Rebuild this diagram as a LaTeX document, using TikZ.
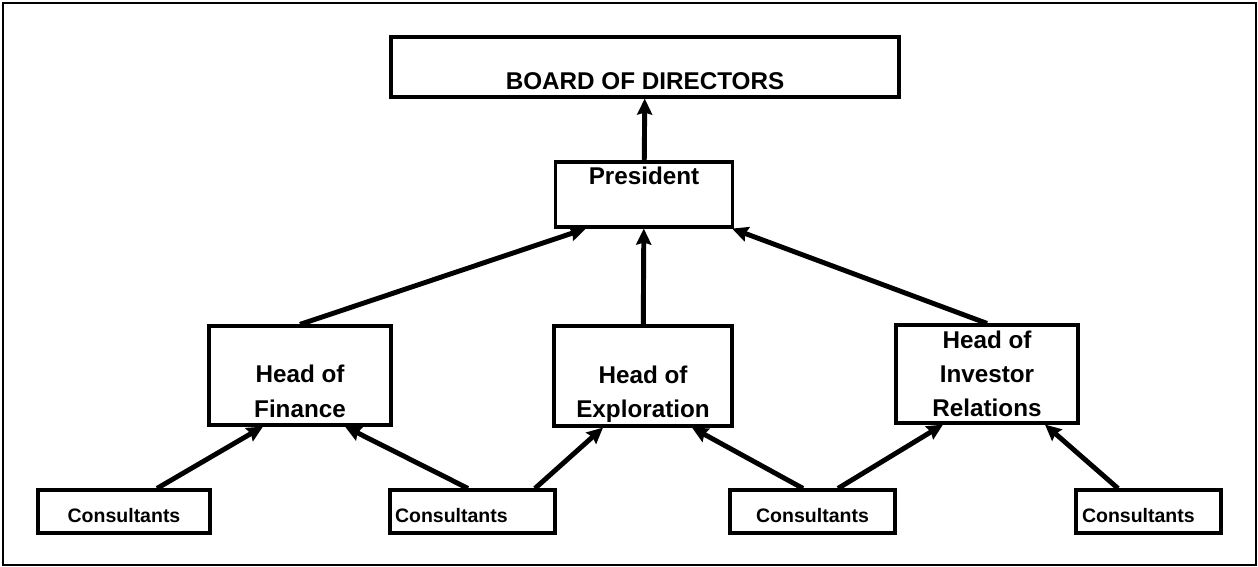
\documentclass[tikz,border=0pt]{standalone}
\usepackage{fontspec}
\setmainfont{Liberation Sans}
\usetikzlibrary{arrows.meta}

\tikzset{
  orgbox/.style={draw, line width=1.8pt, inner sep=0pt, font=\bfseries\fontsize{13.8pt}{19.4pt}\selectfont},
  consult/.style={draw, line width=1.8pt, inner ysep=0pt, minimum height=0.86cm, text height=0.6cm, text depth=0.14cm, font=\bfseries\fontsize{11.1pt}{13pt}\selectfont},
  link/.style={line width=2.8pt, -{Stealth[length=0.32cm, width=0.3cm, inset=0.04cm]}},
}

\begin{document}
\begin{tikzpicture}[x=0.02cm, y=-0.02cm]
\useasboundingbox (0,0) rectangle (1258,567);
\draw[line width=1.5pt] (3,3) rectangle (1256,565);

 \node[orgbox, minimum width=10.16cm, minimum height=1.2cm, text height=0.95cm, text depth=0.03cm] (board) at (645,67) {BOARD OF DIRECTORS};
 \node[orgbox, minimum width=3.54cm, minimum height=1.3cm, text height=0.35cm, text depth=0.73cm] (pres) at (644,194.5) {President};

 \node[orgbox, align=center, minimum width=3.64cm, minimum height=1.98cm] (fin) at (300,375.5) {\rule{0pt}{1.08cm}Head of\\Finance\rule[-0.1cm]{0pt}{0.1cm}};
 \node[orgbox, align=center, minimum width=3.56cm, minimum height=2cm] (expl) at (643,376) {\rule{0pt}{1.08cm}Head of\\Exploration\rule[-0.1cm]{0pt}{0.1cm}};
 \node[orgbox, align=center, minimum width=3.64cm, minimum height=1.96cm] (inv) at (987,374) {\rule{0pt}{0.44cm}Head of\\Investor\\Relations\rule[-0.1cm]{0pt}{0.1cm}};

 \node[consult, minimum width=3.44cm] (c1) at (124,511.5) {Consultants};
 \node[consult, text width=3.1cm, inner xsep=0.1cm, align=left] (c2) at (472.5,511.5) {Consultants};
 \node[consult, minimum width=3.3cm] (c3) at (812.5,511.5) {Consultants};
 \node[consult, text width=2.66cm, inner xsep=0.12cm, align=left] (c4) at (1148.5,511.5) {Consultants};

 \draw[link] (pres) -- (board);
 \draw[link] (fin.north) -- ([xshift=0.64cm]pres.south west);
 \draw[link] (expl) -- (pres);
 \draw[link] (inv.north) -- ([xshift=-0.04cm]pres.south east);

 \draw[link] ([xshift=0.66cm]c1.north) -- ([xshift=-0.74cm]fin.south);
 \draw[link] ([xshift=-0.09cm]c2.north) -- ([xshift=0.9cm]fin.south);
 \draw[link] ([xshift=1.25cm]c2.north) -- ([xshift=-0.8cm]expl.south);
 \draw[link] ([xshift=-0.19cm]c3.north) -- ([xshift=0.98cm]expl.south);
 \draw[link] ([xshift=0.51cm]c3.north) -- ([xshift=-0.88cm]inv.south);
 \draw[link] ([xshift=-0.61cm]c4.north) -- ([xshift=1.16cm]inv.south);

\end{tikzpicture}
\end{document}
